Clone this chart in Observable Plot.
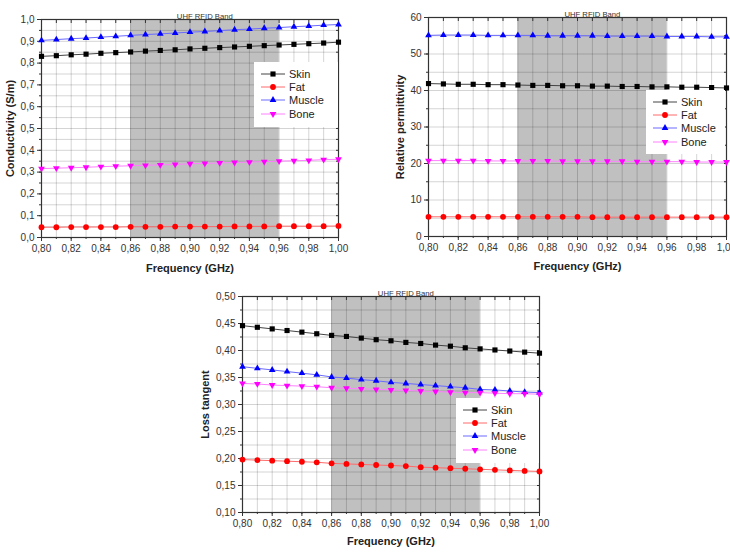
<!DOCTYPE html>
<html>
<head>
<meta charset="utf-8">
<script src="https://cdn.jsdelivr.net/npm/d3@7"></script>
<script src="https://cdn.jsdelivr.net/npm/@observablehq/plot@0.6"></script>
<style>
  html, body { margin: 0; padding: 0; background: #fff; overflow: hidden; }
  #root { position: relative; width: 730px; height: 556px; font-family: "Liberation Sans", Arial, sans-serif; }
  .panel { position: absolute; }
  .panel svg { display: block; }
  g[aria-label="x-axis label"] text, g[aria-label="y-axis label"] text { font-weight: bold; font-size: 11px; fill: #222; }
  .legend { position: absolute; background: #fff; box-sizing: border-box; padding-top: 5px; font-size: 11px; color: #222; }
  .legend .row { display: flex; align-items: center; height: 13.4px; }
  .legend svg { display: block; margin-left: 7px; margin-right: 4px; }
</style>
</head>
<body>
<div id="root"></div>
<script>
// Frequency sweep (GHz)
const freq = [0.80, 0.81, 0.82, 0.83, 0.84, 0.85, 0.86, 0.87, 0.88, 0.89, 0.90,
              0.91, 0.92, 0.93, 0.94, 0.95, 0.96, 0.97, 0.98, 0.99, 1.00];

const tissues = ["Skin", "Fat", "Muscle", "Bone"];
const markerColors = ["#000000", "#ff0000", "#0000ff", "#ff00ff"];
const lineColors = ["#444444", "#ff6a6a", "#6a6aff", "#ff80ff"];

// Conductivity (S/m)
const conductivitySkin   = [0.831, 0.834, 0.838, 0.841, 0.845, 0.848, 0.851, 0.855, 0.858, 0.861, 0.865,
                            0.868, 0.871, 0.874, 0.877, 0.880, 0.883, 0.886, 0.889, 0.892, 0.896];
const conductivityFat    = [0.047, 0.047, 0.048, 0.048, 0.048, 0.048, 0.049, 0.049, 0.049, 0.050, 0.050,
                            0.050, 0.050, 0.051, 0.051, 0.051, 0.052, 0.052, 0.052, 0.052, 0.053];
const conductivityMuscle = [0.904, 0.908, 0.912, 0.915, 0.919, 0.923, 0.927, 0.931, 0.934, 0.938, 0.942,
                            0.945, 0.949, 0.953, 0.956, 0.960, 0.963, 0.967, 0.970, 0.974, 0.977];
const conductivityBone   = [0.316, 0.318, 0.320, 0.322, 0.325, 0.327, 0.329, 0.331, 0.333, 0.335, 0.338,
                            0.340, 0.342, 0.344, 0.346, 0.348, 0.350, 0.352, 0.354, 0.357, 0.359];

// Relative permittivity
const permittivitySkin   = [41.9, 41.8, 41.7, 41.7, 41.6, 41.6, 41.5, 41.4, 41.4, 41.3, 41.3,
                            41.2, 41.2, 41.1, 41.1, 41.0, 41.0, 40.9, 40.9, 40.8, 40.7];
const permittivityFat    = [5.4, 5.4, 5.4, 5.4, 5.4, 5.4, 5.4, 5.4, 5.4, 5.4, 5.4,
                            5.3, 5.3, 5.3, 5.3, 5.3, 5.3, 5.3, 5.3, 5.3, 5.3];
const permittivityMuscle = [55.1, 55.2, 55.2, 55.2, 55.1, 55.1, 55.1, 55.1, 55.0, 55.0, 55.0,
                            55.0, 54.9, 54.9, 54.9, 54.9, 54.8, 54.8, 54.8, 54.7, 54.7];
const permittivityBone   = [20.8, 20.8, 20.8, 20.8, 20.7, 20.7, 20.7, 20.7, 20.7, 20.6, 20.6,
                            20.6, 20.6, 20.6, 20.5, 20.5, 20.5, 20.5, 20.4, 20.4, 20.4];

// Loss tangent
const lossSkin   = [0.446, 0.443, 0.440, 0.437, 0.434, 0.431, 0.428, 0.426, 0.423, 0.420, 0.418,
                    0.415, 0.413, 0.410, 0.408, 0.405, 0.403, 0.401, 0.399, 0.397, 0.395];
const lossFat    = [0.198, 0.197, 0.196, 0.195, 0.194, 0.193, 0.191, 0.190, 0.189, 0.188, 0.187,
                    0.186, 0.184, 0.183, 0.182, 0.181, 0.180, 0.179, 0.178, 0.177, 0.176];
const lossMuscle = [0.370, 0.367, 0.364, 0.361, 0.358, 0.355, 0.351, 0.349, 0.346, 0.344, 0.341,
                    0.339, 0.337, 0.335, 0.333, 0.331, 0.328, 0.327, 0.325, 0.323, 0.322];
const lossBone   = [0.339, 0.338, 0.336, 0.335, 0.334, 0.333, 0.331, 0.330, 0.329, 0.328, 0.327,
                    0.326, 0.325, 0.324, 0.323, 0.322, 0.322, 0.321, 0.320, 0.320, 0.319];

// Axis ticks
const freqLabelTicks = [0.80, 0.82, 0.84, 0.86, 0.88, 0.90, 0.92, 0.94, 0.96, 0.98, 1.00];
const conductivityTicks = [0, 0.1, 0.2, 0.3, 0.4, 0.5, 0.6, 0.7, 0.8, 0.9, 1.0];
const conductivityMinor = [0, 0.05, 0.1, 0.15, 0.2, 0.25, 0.3, 0.35, 0.4, 0.45, 0.5,
                           0.55, 0.6, 0.65, 0.7, 0.75, 0.8, 0.85, 0.9, 0.95, 1.0];
const permittivityTicks = [0, 10, 20, 30, 40, 50, 60];
const permittivityMinor = [0, 5, 10, 15, 20, 25, 30, 35, 40, 45, 50, 55, 60];
const lossTicks = [0.10, 0.15, 0.20, 0.25, 0.30, 0.35, 0.40, 0.45, 0.50];
const lossMinor = [0.10, 0.125, 0.15, 0.175, 0.20, 0.225, 0.25, 0.275, 0.30,
                   0.325, 0.35, 0.375, 0.40, 0.425, 0.45, 0.475, 0.50];

// UHF RFID band
const bandLow = 0.86;
const bandHigh = 0.96;
const bandTitle = "UHF RFID Band";

// Downward-pointing triangle symbol
const triangleDown = {
  draw(context, size) {
    const sqrt3 = Math.sqrt(3);
    const y = -Math.sqrt(size / (sqrt3 * 3));
    context.moveTo(0, -y * 2);
    context.lineTo(-sqrt3 * y, y);
    context.lineTo(sqrt3 * y, y);
    context.closePath();
  }
};
const tissueSymbols = [d3.symbolSquare, d3.symbolCircle, d3.symbolTriangle, triangleDown];
const tissueRadius = [2.9, 2.9, 2.5, 2.5];

const comma = (fmt) => (d) => d3.format(fmt)(d).replace(".", ",");

function rowsFor(series) {
  return freq.map((f, i) => ({f, v: series[i]}));
}

function panel({left, top, width, height, margins, yDomain, yTicks, yMinor, yFormat, yLabel, yLabelOffset, xLabelOffset, series}) {
  const [mt, mr, mb, ml] = margins;
  const marks = [
    Plot.rect([{lo: bandLow, hi: bandHigh}], {x1: "lo", x2: "hi", fill: "#c0c0c0"}),
    Plot.gridX(freq, {stroke: "#000", strokeOpacity: 0.17}),
    Plot.gridY(yMinor, {stroke: "#000", strokeOpacity: 0.17}),
    Plot.axisX(freqLabelTicks, {tickSize: 4, tickPadding: 3, tickFormat: comma(".2f"), fontSize: 10, color: "#333",
      label: "Frequency (GHz)", labelAnchor: "center", labelArrow: "none", labelOffset: xLabelOffset}),
    Plot.axisX(freq, {tickSize: 2, tickFormat: () => "", label: null, color: "#333"}),
    Plot.axisX(freq, {anchor: "top", tickSize: -3, tickFormat: () => "", label: null, color: "#333"}),
    Plot.axisY(yTicks, {tickSize: 4, tickPadding: 3, tickFormat: yFormat, fontSize: 10, color: "#333",
      label: yLabel, labelAnchor: "center", labelArrow: "none", labelOffset: yLabelOffset}),
    Plot.axisY(yMinor, {tickSize: 2, tickFormat: () => "", label: null, color: "#333"}),
    Plot.axisY(yMinor, {anchor: "right", tickSize: -3, tickFormat: () => "", label: null, color: "#333"}),
    Plot.frame({stroke: "#333", strokeWidth: 1.2}),
    Plot.text([{lo: bandLow, hi: bandHigh}], {x: (d) => (d.lo + d.hi) / 2, text: () => bandTitle,
      frameAnchor: "top", lineAnchor: "bottom", dy: -1, fontSize: 7.7, fill: "#333"})
  ];
  series.forEach((s, k) => {
    const rows = rowsFor(s);
    marks.push(Plot.line(rows, {x: "f", y: "v", stroke: lineColors[k], strokeWidth: 1}));
  });
  series.forEach((s, k) => {
    const rows = rowsFor(s);
    marks.push(Plot.dot(rows, {x: "f", y: "v", symbol: tissueSymbols[k], r: tissueRadius[k], fill: markerColors[k], stroke: "none"}));
  });
  const chart = Plot.plot({
    width, height,
    marginTop: mt, marginRight: mr, marginBottom: mb, marginLeft: ml,
    style: {fontFamily: '"Liberation Sans", Arial, sans-serif', fontSize: "10px", background: "transparent", color: "#333"},
    x: {domain: [0.8, 1.0], label: null},
    y: {domain: yDomain, label: null},
    marks
  });
  const div = document.createElement("div");
  div.className = "panel";
  div.style.left = left + "px";
  div.style.top = top + "px";
  div.appendChild(chart);
  document.getElementById("root").appendChild(div);
}

function legend({left, top, width, height}) {
  const div = document.createElement("div");
  div.className = "legend";
  Object.assign(div.style, {left: left + "px", top: top + "px", width: width + "px", height: height + "px"});
  tissues.forEach((name, k) => {
    const row = document.createElement("div");
    row.className = "row";
    const svg = d3.create("svg").attr("width", 24).attr("height", 10);
    svg.append("line").attr("x1", 0).attr("x2", 24).attr("y1", 5).attr("y2", 5)
      .attr("stroke", lineColors[k]).attr("stroke-width", 1);
    const r = tissueRadius[k];
    svg.append("path").attr("transform", "translate(12,5)")
      .attr("d", d3.symbol(tissueSymbols[k], r * r * Math.PI)())
      .attr("fill", markerColors[k]);
    row.appendChild(svg.node());
    const label = document.createElement("span");
    label.textContent = name;
    row.appendChild(label);
    div.appendChild(row);
  });
  document.getElementById("root").appendChild(div);
}

panel({
  left: 0, top: 0, width: 365, height: 275, margins: [19, 27, 38, 41],
  yDomain: [0, 1.0], yTicks: conductivityTicks, yMinor: conductivityMinor, yFormat: comma(".1f"),
  yLabel: "Conductivity (S/m)", yLabelOffset: 35, xLabelOffset: 34,
  series: [conductivitySkin, conductivityFat, conductivityMuscle, conductivityBone]
});
panel({
  left: 365, top: 0, width: 365, height: 275, margins: [17, 4, 39, 63],
  yDomain: [0, 60], yTicks: permittivityTicks, yMinor: permittivityMinor, yFormat: d3.format("d"),
  yLabel: "Relative permittivity", yLabelOffset: 32, xLabelOffset: 33,
  series: [permittivitySkin, permittivityFat, permittivityMuscle, permittivityBone]
});
panel({
  left: 190, top: 280, width: 370, height: 276, margins: [16, 21, 44, 52],
  yDomain: [0.10, 0.50], yTicks: lossTicks, yMinor: lossMinor, yFormat: comma(".2f"),
  yLabel: "Loss tangent", yLabelOffset: 41, xLabelOffset: 32,
  series: [lossSkin, lossFat, lossMuscle, lossBone]
});

legend({left: 254, top: 62, width: 84, height: 65});
legend({left: 646, top: 90, width: 79, height: 64});
legend({left: 456, top: 398, width: 83, height: 65});
</script>
</body>
</html>
